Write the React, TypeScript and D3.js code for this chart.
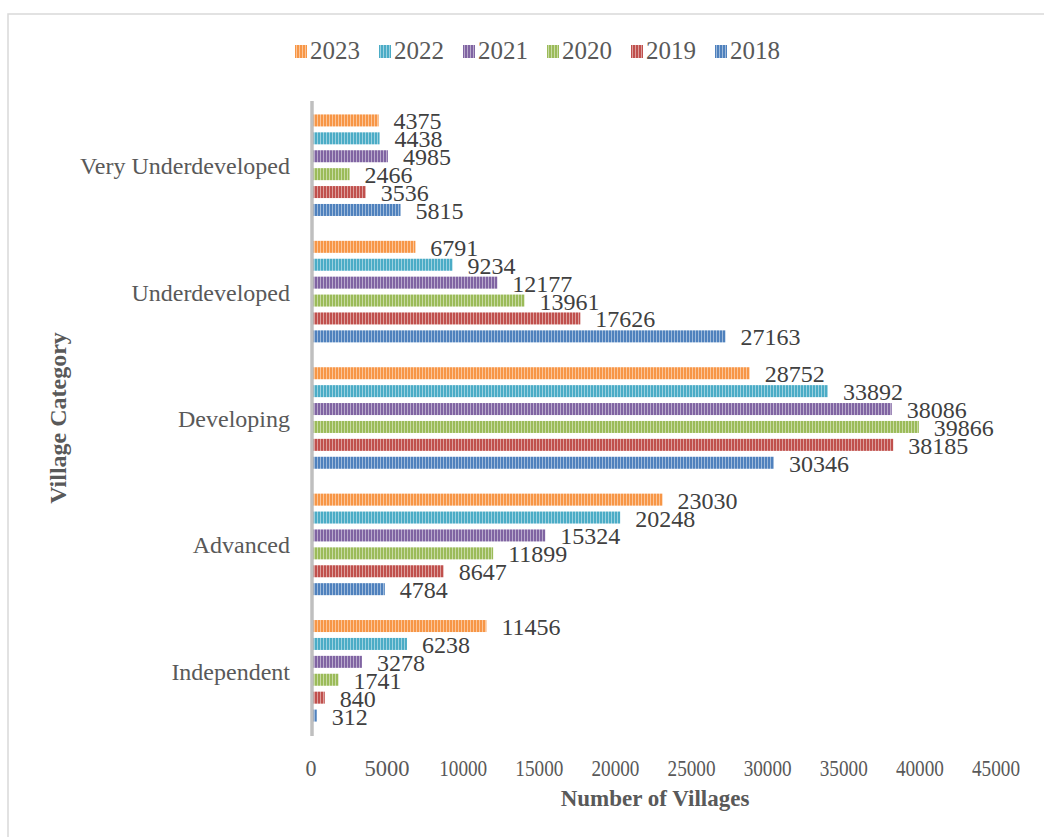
import React from "react";
import * as d3 from "d3";

const categories = ["Very Underdeveloped", "Underdeveloped", "Developing", "Advanced", "Independent"];
const years = ["2023", "2022", "2021", "2020", "2019", "2018"];
const values: Record<string, number[]> = {
  "2023": [4375, 6791, 28752, 23030, 11456],
  "2022": [4438, 9234, 33892, 20248, 6238],
  "2021": [4985, 12177, 38086, 15324, 3278],
  "2020": [2466, 13961, 39866, 11899, 1741],
  "2019": [3536, 17626, 38185, 8647, 840],
  "2018": [5815, 27163, 30346, 4784, 312],
};
const colors: Record<string, string> = {
  "2023": "#F79646",
  "2022": "#4BACC6",
  "2021": "#8064A2",
  "2020": "#9BBB59",
  "2019": "#C0504D",
  "2018": "#4F81BD",
};
const xTicks = [0, 5000, 10000, 15000, 20000, 25000, 30000, 35000, 40000, 45000];

const W = 1044;
const H = 837;
const font = "'Liberation Serif', 'Times New Roman', serif";

export default function App() {
  const x = d3.scaleLinear().domain([0, 45000]).range([312, 997]);
  const y = d3.scaleBand().domain(categories).range([102, 734]).paddingInner(0.15).paddingOuter(0.075);
  const yInner = d3.scaleBand().domain(years).range([0, y.bandwidth()]).paddingInner(0.33).paddingOuter(0.165);

  return (
    <svg width={W} height={H} style={{ position: "absolute", left: 0, top: 0, background: "#fff" }} fontFamily={font}>
      <defs>
        {years.map((yr) => (
          <pattern key={yr} id={`stripe-${yr}`} patternUnits="userSpaceOnUse" width={3} height={10}>
            <rect width={3} height={10} fill={colors[yr]} />
            <rect x={2} width={1} height={10} fill="#fff" opacity={0.45} />
          </pattern>
        ))}
      </defs>

      {/* chart border */}
      <rect x={8} y={14} width={W} height={H} fill="none" stroke="#d9d9d9" strokeWidth={1.5} />

      {/* legend */}
      {years.map((yr, i) => {
        const lx = 295 + i * 84;
        return (
          <g key={yr}>
            <rect x={lx} y={45} width={12} height={13} fill={`url(#stripe-${yr})`} />
            <text x={lx + 15} y={59} fontSize={25} fill="#595959">
              {yr}
            </text>
          </g>
        );
      })}

      {/* bars */}
      {categories.map((cat, ci) => (
        <g key={cat} transform={`translate(0,${y(cat)})`}>
          {years.map((yr) => {
            const v = values[yr][ci];
            const by = yInner(yr)!;
            const bh = yInner.bandwidth();
            return (
              <g key={yr}>
                <rect x={x(0)} y={by} width={x(v) - x(0)} height={bh} fill={`url(#stripe-${yr})`} />
                <text x={x(v) + 15} y={by + bh / 2 + 9} fontSize={24} fill="#404040">
                  {v}
                </text>
              </g>
            );
          })}
        </g>
      ))}

      {/* y axis line */}
      <line x1={312} x2={312} y1={101} y2={736} stroke="#bfbfbf" strokeWidth={3.5} />

      {/* category labels */}
      {categories.map((cat) => (
        <text key={cat} x={290} y={y(cat)! + y.bandwidth() / 2 + 9} textAnchor="end" fontSize={24} fill="#595959">
          {cat}
        </text>
      ))}

      {/* x tick labels */}
      {xTicks.map((t) => {
        const s = String(t);
        const len = s.length === 1 ? 11 : s.length === 4 ? 45 : 48;
        return (
          <text key={t} x={x(t) - 1} y={776} textAnchor="middle" fontSize={23} fill="#595959" textLength={len} lengthAdjust="spacingAndGlyphs">
            {s}
          </text>
        );
      })}

      {/* axis titles */}
      <text x={655} y={806} textAnchor="middle" fontSize={23} fontWeight="bold" fill="#595959">
        Number of Villages
      </text>
      <text transform="translate(66,418) rotate(-90)" textAnchor="middle" fontSize={24} fontWeight="bold" fill="#595959">
        Village Category
      </text>
    </svg>
  );
}
